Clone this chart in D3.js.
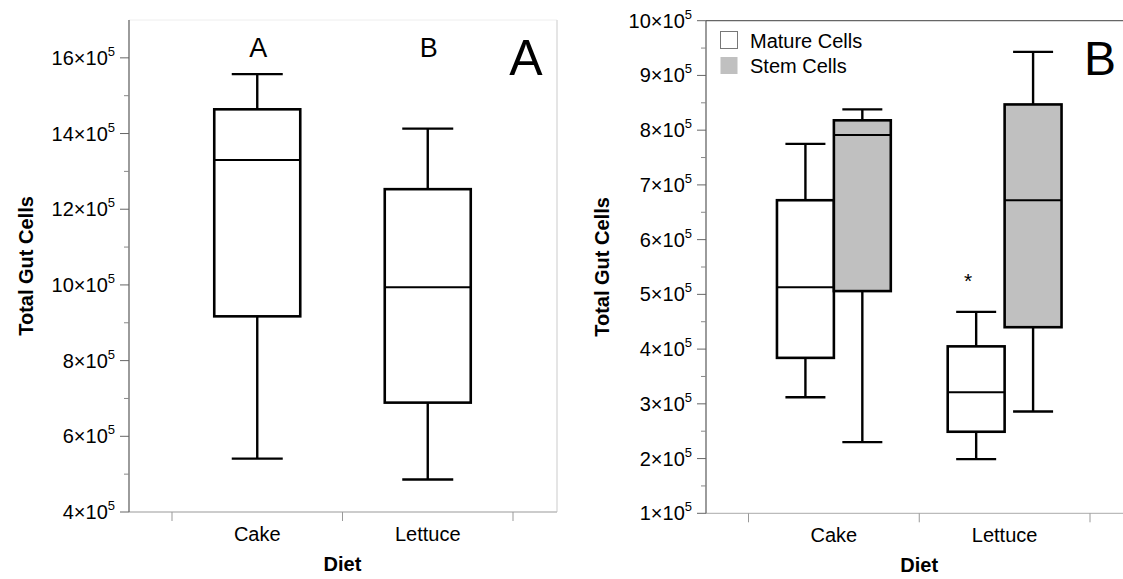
<!DOCTYPE html>
<html>
<head>
<meta charset="utf-8">
<script src="https://cdn.jsdelivr.net/npm/d3@7"></script>
<style>
  body { margin: 0; background: #fff; }
  text { font-family: "Liberation Sans", Arial, sans-serif; fill: #000; }
</style>
</head>
<body>
<svg width="1123" height="579"></svg>
<script>
// all values in units of 10^5 cells
var diets = ["Cake", "Lettuce"];

// panel A: [min, q1, median, q3, max]
var totalCake = [5.41, 9.17, 13.30, 14.64, 15.57];
var totalLettuce = [4.86, 6.89, 9.94, 12.53, 14.13];
var letters = ["A", "B"];
var ticksA = [4, 6, 8, 10, 12, 14, 16];

// panel B
var cellTypes = ["Mature Cells", "Stem Cells"];
var matureCells = [[3.12, 3.84, 5.13, 6.72, 7.75], [1.99, 2.49, 3.21, 4.05, 4.68]];
var stemCells = [[2.30, 5.06, 7.91, 8.18, 8.38], [2.86, 4.40, 6.72, 8.47, 9.43]];
var ticksB = [1, 2, 3, 4, 5, 6, 7, 8, 9, 10];

var svg = d3.select("svg");

function expLabel(sel, v) {
  sel.text(null);
  sel.append("tspan").text(v + "\u00d710");
  sel.append("tspan").attr("font-size", 13).attr("dy", -9).text("5");
}

function yAxis(g, y, ticks, minors, x0) {
  g.append("line").attr("x1", x0).attr("x2", x0)
      .attr("y1", y.range()[0]).attr("y2", y.range()[1])
      .attr("stroke", "#666").attr("stroke-width", 1.3);
  g.selectAll(".minor").data(minors).enter().append("line")
      .attr("x1", x0 - 5).attr("x2", x0)
      .attr("y1", d => y(d)).attr("y2", d => y(d))
      .attr("stroke", "#888");
  g.selectAll(".major").data(ticks).enter().append("line")
      .attr("x1", x0 - 9).attr("x2", x0)
      .attr("y1", d => y(d)).attr("y2", d => y(d))
      .attr("stroke", "#666");
  g.selectAll(".lbl").data(ticks).enter().append("text")
      .attr("x", x0 - 14).attr("y", d => y(d) + 7)
      .attr("text-anchor", "end").attr("font-size", 20)
      .each(function(d) { expLabel(d3.select(this), d); });
}

function xAxis(g, x, y0) {
  var edges = [x.range()[0]].concat(diets.map(d => x(d) + x.bandwidth()));
  g.selectAll(".xt").data(edges).enter().append("line")
      .attr("x1", d => d).attr("x2", d => d)
      .attr("y1", y0).attr("y2", y0 + 9)
      .attr("stroke", "#999");
  g.selectAll(".xl").data(diets).enter().append("text")
      .attr("x", d => x(d) + x.bandwidth() / 2).attr("y", y0 + 29)
      .attr("text-anchor", "middle").attr("font-size", 20)
      .text(d => d);
  g.append("text")
      .attr("x", (x.range()[0] + x.range()[1]) / 2).attr("y", y0 + 59)
      .attr("text-anchor", "middle").attr("font-size", 20).attr("font-weight", "bold")
      .text("Diet");
}

function drawBox(g, s, cx, w, capW, y, fill) {
  g.append("line").attr("x1", cx).attr("x2", cx).attr("y1", y(s[3])).attr("y2", y(s[4]))
      .attr("stroke", "#000").attr("stroke-width", 2.4);
  g.append("line").attr("x1", cx).attr("x2", cx).attr("y1", y(s[1])).attr("y2", y(s[0]))
      .attr("stroke", "#000").attr("stroke-width", 2.4);
  [s[0], s[4]].forEach(function(v) {
    g.append("line").attr("x1", cx - capW / 2).attr("x2", cx + capW / 2)
        .attr("y1", y(v)).attr("y2", y(v))
        .attr("stroke", "#000").attr("stroke-width", 2.4);
  });
  g.append("rect").attr("x", cx - w / 2).attr("width", w)
      .attr("y", y(s[3])).attr("height", y(s[1]) - y(s[3]))
      .attr("fill", fill).attr("stroke", "#000").attr("stroke-width", 2.6);
  g.append("line").attr("x1", cx - w / 2).attr("x2", cx + w / 2)
      .attr("y1", y(s[2])).attr("y2", y(s[2]))
      .attr("stroke", "#000").attr("stroke-width", 2);
}

// ---------- panel A ----------
var gA = svg.append("g");
var leftA = 129, rightA = 557, topA = 20, bottomA = 512;
var yA = d3.scaleLinear().domain([4, 17]).range([bottomA, topA]);
var xA = d3.scaleBand().domain(diets).range([172, 513]);

gA.append("line").attr("x1", leftA).attr("x2", rightA).attr("y1", topA).attr("y2", topA)
    .attr("stroke", "#eee");
gA.append("line").attr("x1", rightA).attr("x2", rightA).attr("y1", topA).attr("y2", bottomA)
    .attr("stroke", "#ddd").attr("stroke-width", 1.5);
gA.append("line").attr("x1", leftA).attr("x2", rightA).attr("y1", bottomA).attr("y2", bottomA)
    .attr("stroke", "#bbb").attr("stroke-width", 1.3);
yAxis(gA, yA, ticksA, [5, 7, 9, 11, 13, 15], leftA);
xAxis(gA, xA, bottomA);

[totalCake, totalLettuce].forEach(function(s, i) {
  var cx = xA(diets[i]) + xA.bandwidth() / 2;
  drawBox(gA, s, cx, 86, 51, yA, "#fff");
  gA.append("text").attr("x", cx + 1).attr("y", 57)
      .attr("text-anchor", "middle").attr("font-size", 27).text(letters[i]);
});

gA.append("text").attr("x", 526).attr("y", 75).attr("text-anchor", "middle")
    .attr("font-size", 50).text("A");
gA.append("text")
    .attr("transform", "translate(33," + (topA + bottomA) / 2 + ") rotate(-90)")
    .attr("text-anchor", "middle").attr("font-size", 20).attr("font-weight", "bold")
    .text("Total Gut Cells");

// ---------- panel B ----------
var gB = svg.append("g");
var leftB = 706, topB = 20.7, bottomB = 513.3;
var yB = d3.scaleLinear().domain([1, 10]).range([bottomB, topB]);
var xB = d3.scaleBand().domain(diets).range([748.5, 1090]);
var xSub = d3.scaleBand().domain(cellTypes).range([0, xB.bandwidth()]).paddingOuter(0.5);

gB.append("line").attr("x1", leftB).attr("x2", 1123).attr("y1", topB).attr("y2", topB)
    .attr("stroke", "#666").attr("stroke-width", 1.3);
gB.append("line").attr("x1", leftB).attr("x2", 1123).attr("y1", bottomB).attr("y2", bottomB)
    .attr("stroke", "#bbb").attr("stroke-width", 1.3);
yAxis(gB, yB, ticksB, d3.range(1.5, 10, 1), leftB);
xAxis(gB, xB, bottomB);

var fills = ["#fff", "#c0c0c0"];
diets.forEach(function(d, i) {
  [matureCells[i], stemCells[i]].forEach(function(s, j) {
    var cx = xB(d) + xSub(cellTypes[j]) + xSub.bandwidth() / 2;
    drawBox(gB, s, cx, xSub.bandwidth(), 40, yB, fills[j]);
  });
});

// significance mark over lettuce mature cells
gB.append("text").attr("x", 968).attr("y", 288).attr("text-anchor", "middle")
    .attr("font-size", 21).text("*");

var legend = gB.selectAll(".leg").data(cellTypes).enter().append("g")
    .attr("transform", (d, i) => "translate(720," + (31 + i * 25.5) + ")");
legend.append("rect").attr("x", 0.5).attr("y", 0.5).attr("width", 17).attr("height", 17)
    .attr("fill", (d, i) => fills[i])
    .attr("stroke", (d, i) => i ? "none" : "#777").attr("stroke-width", 1);
legend.append("text").attr("x", 30).attr("y", 16.5).attr("font-size", 20).text(d => d);

gB.append("text").attr("x", 1084).attr("y", 75).attr("font-size", 48).text("B");
gB.append("text")
    .attr("transform", "translate(609," + (topB + bottomB) / 2 + ") rotate(-90)")
    .attr("text-anchor", "middle").attr("font-size", 20).attr("font-weight", "bold")
    .text("Total Gut Cells");
</script>
</body>
</html>
